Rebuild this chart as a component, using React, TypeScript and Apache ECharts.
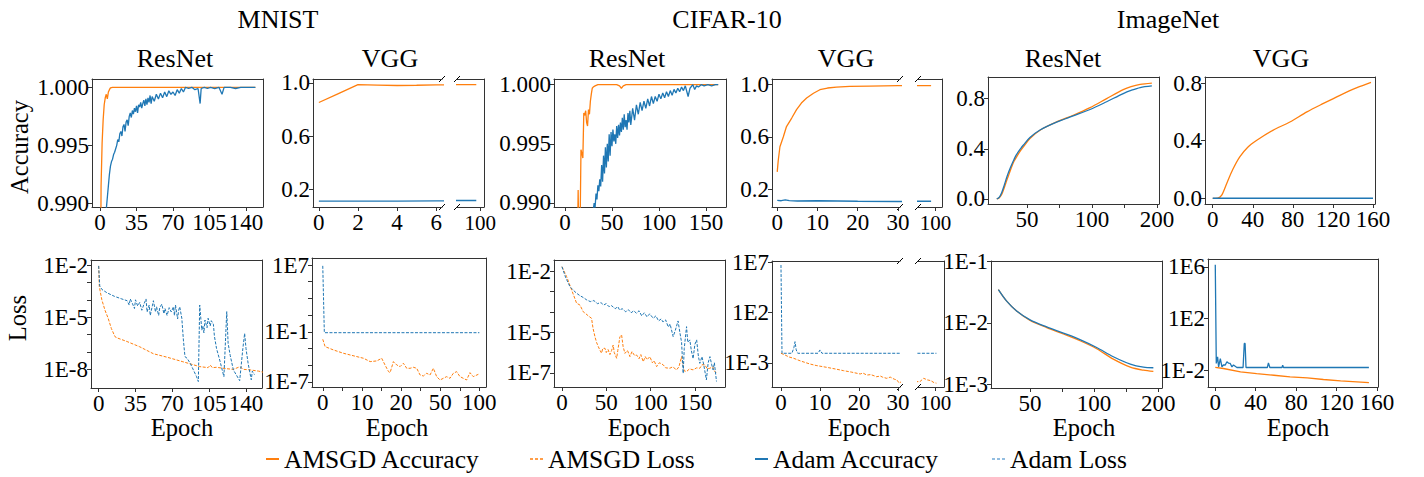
import React, { useEffect, useRef } from "react";
import * as echarts from "echarts";

const FONT = "Liberation Serif";
const ORANGE = "#ff7f0e";
const BLUE = "#1f77b4";
const AXIS = "#333";

// ---------------- Accuracy data (epoch, accuracy) ----------------
const mnistResnetAccAmsgd = [[0,0.975],[1,0.9915],[2,0.9952],[3,0.9972],[4,0.9985],[5,0.9991],[6,0.9994],[7,0.999],[8,0.9996],[9,0.9998],[10,0.99995],[12,1.0],[20,1.0],[40,1.0],[60,1.0],[80,1.0],[100,1.0],[120,1.0],[140,1.0],[149,1.0]];
const mnistResnetAccAdam = [[6,0.9895],[7,0.9905],[8,0.9915],[9,0.9925],[10,0.9932],[11,0.9936],[12,0.9938],[13,0.9942],[14,0.9944],[15,0.9947],[16,0.995],[17,0.9955],[18,0.9953],[19,0.996],[20,0.9962],[21,0.9958],[22,0.9966],[23,0.9968],[24,0.9962],[25,0.997],[26,0.9972],[27,0.9967],[28,0.9975],[29,0.9978],[30,0.9974],[31,0.998],[32,0.9977],[33,0.9982],[34,0.9979],[35,0.9984],[36,0.9978],[37,0.9985],[38,0.9983],[39,0.9987],[40,0.9982],[41,0.9986],[42,0.9989],[43,0.9984],[44,0.999],[45,0.9985],[46,0.9991],[47,0.9987],[48,0.9993],[49,0.9986],[50,0.9992],[52,0.9988],[54,0.9994],[56,0.999],[58,0.9995],[60,0.9991],[62,0.9996],[64,0.9992],[66,0.9997],[68,0.9994],[70,0.9996],[72,0.9993],[74,0.9998],[76,0.9995],[78,0.9999],[80,0.9996],[82,1.0],[85,0.9999],[88,1.0],[91,0.9998],[94,0.9999],[96,0.9986],[97,0.9999],[100,1.0],[103,0.9999],[106,1.0],[110,0.9999],[114,1.0],[117,0.9994],[119,1.0],[125,1.0],[130,0.9999],[135,1.0],[140,1.0],[149,1.0]];
const mnistVggAccAmsgd = [[0,0.853],[1,0.92],[2,0.987],[3,0.984],[4,0.981],[5,0.983],[6,0.986],[7,0.986],[10,0.987],[20,0.987],[40,0.988],[60,0.988],[80,0.988],[95,0.987],[99,0.987]];
const mnistVggAccAdam = [[0,0.11],[2,0.11],[4,0.11],[6,0.112],[10,0.112],[50,0.114],[80,0.115],[99,0.115]];
const cifarResnetAccAmsgd = [[0,0.96],[10,0.975],[13,0.985],[14,0.9911],[15,0.985],[16,0.9875],[17,0.9945],[18,0.9942],[19,0.9938],[20,0.9976],[21,0.9974],[22,0.9978],[23,0.9968],[24,0.9965],[25,0.9979],[26,0.9975],[27,0.9986],[28,0.9992],[29,0.9997],[30,0.9998],[32,0.9999],[35,1.0],[55,1.0],[58,0.9999],[60,0.9997],[62,0.9999],[65,1.0],[100,1.0],[130,1.0],[163,1.0]];
const cifarResnetAccAdam = [[28,0.988],[31,0.99],[32,0.9896],[33,0.9908],[34,0.9903],[35,0.9915],[36,0.991],[37,0.992],[38,0.9914],[39,0.9932],[40,0.9918],[41,0.994],[42,0.9925],[43,0.9947],[44,0.993],[45,0.995],[46,0.9935],[47,0.9958],[48,0.994],[49,0.996],[50,0.9948],[51,0.9962],[52,0.9952],[53,0.9958],[54,0.995],[55,0.9965],[56,0.9955],[57,0.9966],[58,0.9957],[59,0.9968],[60,0.996],[61,0.9972],[62,0.9962],[63,0.9975],[64,0.9964],[65,0.997],[66,0.9962],[67,0.9976],[68,0.9968],[69,0.9978],[70,0.9966],[72,0.998],[74,0.997],[76,0.9983],[78,0.9975],[80,0.9985],[82,0.9978],[84,0.9986],[86,0.998],[88,0.9988],[90,0.9982],[92,0.999],[94,0.9984],[96,0.999],[98,0.9986],[100,0.9992],[102,0.9988],[104,0.9993],[106,0.9989],[108,0.9994],[110,0.999],[112,0.9995],[114,0.9991],[116,0.9996],[118,0.9993],[120,0.9997],[122,0.9994],[124,0.9998],[126,0.9995],[128,0.9999],[131,0.999],[133,0.9997],[136,1.0],[138,0.9996],[140,0.9999],[142,0.9998],[145,1.0],[148,0.9999],[152,1.0],[156,0.9999],[160,1.0],[163,1.0]];
const cifarVggAccAmsgd = [[0,0.333],[0.25,0.42],[0.67,0.525],[1.5,0.6],[2.3,0.68],[3.6,0.745],[4.8,0.81],[6,0.86],[7.3,0.898],[9,0.935],[10.6,0.962],[12.5,0.975],[14.7,0.982],[18,0.987],[23,0.99],[30,0.993],[50,0.994],[80,0.994],[99,0.994]];
const cifarVggAccAdam = [[0,0.115],[1,0.112],[2,0.118],[3,0.113],[5,0.11],[10,0.112],[20,0.108],[30,0.106],[60,0.108],[99,0.108]];
// ImageNet ResNet: x is the tick position (ticks labelled 50, 100, 200 at 0, 2, 4)
const imagenetResnetAccAmsgd = [[-0.93,0],[-0.85,0.01],[-0.78,0.035],[-0.7,0.09],[-0.62,0.151],[-0.55,0.2],[-0.47,0.257],[-0.4,0.3],[-0.32,0.336],[-0.2,0.385],[-0.11,0.416],[0.09,0.482],[0.4,0.548],[0.91,0.614],[1.42,0.667],[1.94,0.728],[2.45,0.8],[2.96,0.871],[3.2,0.895],[3.48,0.913],[3.84,0.924]];
const imagenetResnetAccAdam = [[-0.93,0],[-0.85,0.015],[-0.78,0.05],[-0.7,0.11],[-0.62,0.175],[-0.55,0.225],[-0.47,0.275],[-0.4,0.315],[-0.32,0.355],[-0.2,0.4],[-0.11,0.43],[0.09,0.49],[0.4,0.55],[0.91,0.612],[1.42,0.662],[1.94,0.713],[2.45,0.775],[2.96,0.84],[3.2,0.865],[3.48,0.888],[3.84,0.901]];
const imagenetVggAccAmsgd = [[0,0],[5,0.002],[9,0.023],[14,0.104],[20,0.2],[27,0.288],[35,0.355],[44,0.403],[60,0.472],[77,0.53],[94,0.6],[110,0.657],[127,0.715],[144,0.768],[158,0.805]];
const imagenetVggAccAdam = [[0,0.001],[40,0.001],[80,0.001],[120,0.001],[160,0.001]];

// ---------------- Loss data (epoch, log10 of loss) ----------------
const mnistResnetLossAmsgd = [[0,-2.05],[0.6,-3.25],[3,-4.0],[6,-4.6],[9,-5.06],[12,-5.64],[15.5,-6.12],[18,-6.2],[27,-6.4],[39,-6.7],[52,-7.1],[65,-7.3],[80,-7.56],[96,-7.84],[104,-7.9],[106,-7.75],[108,-7.9],[112,-7.88],[120,-7.95],[128,-8.0],[134,-7.85],[138,-8.0],[144,-8.03],[152,-8.1],[163,-8.26]];
const mnistResnetLossAdam = [[0,-2.05],[1,-3.2],[3,-3.4],[8,-3.6],[15,-3.8],[22,-3.95],[27,-4.05],[29,-4.3],[30,-3.95],[32,-4.2],[34,-4.5],[35,-4.0],[37,-4.35],[39,-4.15],[41,-4.6],[43,-4.25],[45,-3.95],[46,-4.7],[48,-4.3],[49,-4.9],[51,-4.35],[52,-4.05],[54,-4.7],[55,-4.4],[57,-4.9],[58,-4.45],[60,-4.25],[62,-4.8],[63,-4.5],[65,-4.9],[67,-4.45],[69,-4.7],[71,-4.4],[72,-4.9],[73,-4.3],[75,-5.1],[76,-4.6],[77,-4.4],[79,-5.06],[80.5,-6.31],[82,-7.27],[84,-7.36],[87,-7.65],[90,-8.03],[93,-8.42],[94.7,-8.7],[96,-4.3],[98,-5.74],[99,-5.5],[100,-5.9],[101,-5.16],[103,-5.6],[104,-5.06],[106,-5.5],[107,-5.2],[109,-5.4],[110,-6.1],[112,-6.8],[115,-7.46],[119,-8.42],[121.7,-4.68],[123,-6.5],[125,-7.2],[128,-8.03],[134,-8.65],[137,-6.8],[138.7,-5.93],[140,-6.8],[142,-7.65],[145,-8.6],[146,-8.1],[148,-8.3]];
// MNIST VGG loss: x is the tick position (ticks labelled 0, 10, 20, 50, 100 at 0, 2, 4, 6, 8)
const mnistVggLossAmsgd = [[0,-1.89],[0.12,-2.77],[0.54,-3.16],[1.05,-3.56],[1.39,-3.76],[2.08,-4.16],[2.42,-4.56],[2.76,-4.48],[3.01,-4.16],[3.18,-4.96],[3.36,-5.76],[3.44,-5.88],[3.61,-4.56],[3.78,-4.96],[3.95,-5.16],[4.12,-4.76],[4.29,-5.36],[4.46,-5.36],[4.63,-5.24],[4.8,-5.36],[4.97,-6.16],[5.14,-6.28],[5.31,-5.96],[5.48,-6.16],[5.65,-5.36],[5.82,-6.36],[5.99,-6.76],[6.16,-6.56],[6.33,-6.36],[6.5,-6.56],[6.67,-5.96],[6.84,-5.76],[7.01,-6.36],[7.18,-6.56],[7.35,-6.76],[7.52,-5.88],[7.69,-6.36],[7.95,-6.08]];
const mnistVggLossAdam = [[0,6.9],[0.08,-1.1],[1,-1.1],[2,-1.1],[4,-1.1],[6,-1.1],[8,-1.1]];
const cifarResnetLossAmsgd = [[0,-1.79],[5.3,-2.28],[10.9,-2.93],[16.5,-3.58],[20.3,-3.67],[24,-4.0],[27,-4.1],[29.7,-4.2],[33.4,-4.32],[35,-4.8],[37.2,-5.22],[39,-5.5],[41,-5.71],[43,-5.9],[44.7,-6.03],[46,-5.8],[48.5,-5.79],[50,-6.0],[52,-5.85],[54.1,-6.1],[56,-5.9],[57.8,-5.63],[59,-6.0],[61.7,-6.28],[63,-5.9],[65.4,-5.22],[67.3,-5.14],[69,-5.7],[71,-6.04],[74,-5.9],[76.7,-6.2],[79,-5.95],[82,-6.15],[84.2,-6.12],[87,-6.3],[89,-6.1],[91.7,-6.45],[94,-6.2],[96,-6.35],[99.2,-6.2],[102,-6.5],[104,-6.4],[106.8,-6.69],[110,-6.5],[114.2,-6.6],[117,-6.75],[121.8,-6.77],[125,-6.7],[129.3,-6.85],[132,-6.7],[135,-6.2],[136,-6.5],[138,-6.9],[140.6,-6.93],[144,-6.8],[148,-6.85],[152,-6.75],[155.6,-6.77],[158,-6.6],[161.2,-6.6],[164,-6.8],[166.9,-6.77],[170,-6.7],[172,-6.9],[174.4,-7.02]];
const cifarResnetLossAdam = [[0,-1.79],[4,-2.3],[9,-2.77],[13,-2.95],[16.5,-3.09],[20,-3.2],[24,-3.3],[28,-3.42],[32,-3.5],[36,-3.45],[40,-3.6],[44,-3.55],[47,-3.67],[50,-3.6],[53,-3.75],[56,-3.7],[60,-3.85],[63,-3.75],[65,-3.91],[68,-3.85],[72,-4.0],[75,-3.9],[78,-4.05],[81,-3.95],[84,-4.07],[87,-3.95],[90,-4.2],[93,-4.05],[96,-4.25],[99,-4.1],[103,-4.32],[106,-4.2],[109,-4.45],[112,-4.35],[114,-4.5],[117,-4.4],[120,-4.75],[122,-4.6],[125.5,-5.22],[128,-4.9],[131,-4.45],[133,-5.0],[135,-5.5],[136.8,-7.02],[138,-5.8],[140.6,-4.73],[142,-5.5],[144.3,-5.38],[146,-5.9],[148,-6.3],[150,-5.6],[152,-5.38],[154,-6.2],[155.6,-6.53],[158,-6.2],[160,-6.6],[163,-7.34],[165,-6.5],[167,-6.2],[169,-6.6],[170.6,-6.85],[172,-6.5],[174.4,-7.42]];
const cifarVggLossAmsgd = [[0,-2.04],[1,-2.2],[2,-2.4],[3.2,-2.53],[5,-2.8],[7.4,-3.1],[9,-3.25],[11.7,-3.43],[14,-3.6],[16,-3.76],[18,-3.9],[20.3,-4.09],[21,-4.0],[22,-4.2],[23,-4.15],[24.5,-4.36],[25.5,-4.3],[26,-4.4],[27.1,-4.52],[28,-4.4],[29,-4.6],[29.7,-4.68],[30.3,-5.0],[31,-4.8],[50,-4.8],[80,-4.85],[96.7,-4.85],[97.5,-4.52],[98.3,-4.68],[99,-4.75],[99.7,-4.95],[100.2,-5.0]];
const cifarVggLossAdam = [[0,6.7],[0.26,-2.04],[2.8,-2.04],[3.3,-1.5],[3.6,-0.89],[3.9,-1.7],[4.3,-2.04],[9.5,-2.04],[10,-1.71],[10.5,-2.04],[30,-2.04],[60,-2.04],[100.2,-2.04]];
const imagenetResnetLossAmsgd = [[-0.99,-1.457],[-0.73,-1.645],[-0.42,-1.806],[0,-1.957],[0.52,-2.075],[1.04,-2.18],[1.56,-2.29],[2.08,-2.42],[2.6,-2.59],[3.13,-2.72],[3.54,-2.77],[3.85,-2.79]];
const imagenetResnetLossAdam = [[-0.99,-1.457],[-0.73,-1.645],[-0.42,-1.806],[0,-1.95],[0.52,-2.065],[1.04,-2.165],[1.56,-2.27],[2.08,-2.4],[2.6,-2.55],[3.13,-2.67],[3.54,-2.72],[3.85,-2.73]];
const imagenetVggLossAmsgd = [[0,-1.79],[8,-1.87],[25,-2.13],[41,-2.26],[58,-2.39],[74,-2.52],[91,-2.6],[107,-2.72],[124,-2.83],[152,-2.96]];
const imagenetVggLossAdam = [[0,6.16],[1,-1.48],[2.3,-0.97],[3.3,-1.74],[5,-1.1],[6.6,-1.74],[8,-1.6],[9.9,-1.6],[11.5,-1.35],[13,-1.45],[14.8,-1.48],[16.5,-1.74],[18,-1.6],[21.4,-1.79],[27.5,-1.79],[28.7,0.07],[29.5,0.07],[30.4,-1.79],[51.5,-1.79],[52.6,-1.43],[54,-1.79],[66,-1.79],[66.7,-1.62],[67.5,-1.79],[152,-1.79]];

// ---------------- Tick values and labels ----------------
const mnistResnetTicks = [0, 35, 70, 105, 140];
const cifarResnetTicks = [0, 50, 100, 150];
const mnistVggAccTicks = [0, 2, 4, 6];
const cifarVggTicks = [0, 10, 20, 30];
const brokenTailTicks = [100];
const imagenetVggTicks = [0, 40, 80, 120, 160];
const imagenetResnetTickPos = [0, 1, 2, 3, 4];
const imagenetResnetLabelPos = [0, 2, 4];
const imagenetResnetLabelText = ["50", "100", "200"];
const mnistVggLossTickPos = [0, 1, 2, 3, 4, 5, 6, 7, 8];
const mnistVggLossLabelPos = [0, 2, 4, 6, 8];
const mnistVggLossLabelText = ["0", "10", "20", "50", "100"];
const resnetAccTicks = [0.99, 0.995, 1.0];
const vggAccTicks = [0.2, 0.6, 1.0];
const imagenetAccTicks = [0.0, 0.4, 0.8];
const mnistResnetLossLabels = [-8, -5, -2];
const mnistResnetLossTicks = [-8, -7, -6, -5, -4, -3, -2];
const mnistVggLossLabels = [-7, -1, 7];
const mnistVggLossTicks = [-7, -5, -3, -1, 1, 3, 5, 7];
const cifarResnetLossLabels = [-7, -5, -2];
const cifarResnetLossTicks = [-7, -6, -5, -4, -3, -2];
const cifarVggLossLabels = [-3, 2, 7];
const imagenetResnetLossLabels = [-3, -2, -1];
const imagenetVggLossLabels = [-2, 2, 6];

const fmtInt = (v: number) => String(Math.round(v));
const fmt3 = (v: number) => v.toFixed(3);
const fmt1 = (v: number) => v.toFixed(1);
const fmtE = (v: number) => "1E" + Math.round(v);
const mapFmt = (pos: number[], text: string[]) => (v: number) => {
  const i = pos.findIndex((p) => Math.abs(p - v) < 1e-6);
  return i >= 0 ? text[i] : "";
};

type S = { name: string; data: number[][]; color: string; dashed?: boolean; width?: number; clip?: boolean; smooth?: number };
type Panel = {
  box: [number, number, number, number];
  x: [number, number];
  y: [number, number];
  xTicks: number[];
  xLabels: number[];
  xFmt: (v: number) => string;
  yTicks: number[];
  yLabels: number[];
  yFmt: (v: number) => string;
  leftLine: boolean;
  rightLine: boolean;
  yShow: boolean;
  tail?: boolean;
  series: S[];
};

const accA = (d: number[][]): S => ({ name: "AMSGD Accuracy", data: d, color: ORANGE, width: 1.3 });
const accB = (d: number[][]): S => ({ name: "Adam Accuracy", data: d, color: BLUE, width: 1.3 });
const lossA = (d: number[][], dashed = true, clip = true): S => ({ name: "AMSGD Loss", data: d, color: ORANGE, dashed, width: dashed ? 1 : 1.3, clip });
const lossB = (d: number[][], dashed = true): S => ({ name: "Adam Loss", data: d, color: BLUE, dashed, width: dashed ? 1 : 1.3 });

const panels: Panel[] = [
  // top row
  { box: [92, 263, 79, 207], x: [-7.7, 156.3], y: [0.98968, 1.00072], xTicks: mnistResnetTicks, xLabels: mnistResnetTicks, xFmt: fmtInt, yTicks: resnetAccTicks, yLabels: resnetAccTicks, yFmt: fmt3, leftLine: true, rightLine: true, yShow: true, series: [accA(mnistResnetAccAmsgd), accB(mnistResnetAccAdam)] },
  { box: [313, 442, 79, 207], x: [-0.3, 6.3], y: [0.066, 1.03], xTicks: mnistVggAccTicks, xLabels: mnistVggAccTicks, xFmt: fmtInt, yTicks: vggAccTicks, yLabels: vggAccTicks, yFmt: fmt1, leftLine: true, rightLine: false, yShow: true, series: [accA(mnistVggAccAmsgd), accB(mnistVggAccAdam)] },
  { box: [457, 484, 79, 207], x: [94, 101], y: [0.066, 1.03], xTicks: brokenTailTicks, xLabels: brokenTailTicks, xFmt: fmtInt, yTicks: [], yLabels: [], yFmt: fmt1, leftLine: false, rightLine: true, yShow: false, tail: true, series: [accA(mnistVggAccAmsgd), accB(mnistVggAccAdam)] },
  { box: [554, 726, 79, 207], x: [-11.7, 171.3], y: [0.98966, 1.00048], xTicks: cifarResnetTicks, xLabels: cifarResnetTicks, xFmt: fmtInt, yTicks: resnetAccTicks, yLabels: resnetAccTicks, yFmt: fmt3, leftLine: true, rightLine: true, yShow: true, series: [accA(cifarResnetAccAmsgd), accB(cifarResnetAccAdam)] },
  { box: [772, 900, 79, 207], x: [-1.3, 30.5], y: [0.064, 1.044], xTicks: cifarVggTicks, xLabels: cifarVggTicks, xFmt: fmtInt, yTicks: vggAccTicks, yLabels: vggAccTicks, yFmt: fmt1, leftLine: true, rightLine: false, yShow: true, series: [accA(cifarVggAccAmsgd), accB(cifarVggAccAdam)] },
  { box: [918, 942, 79, 207], x: [96, 101.5], y: [0.064, 1.044], xTicks: brokenTailTicks, xLabels: brokenTailTicks, xFmt: fmtInt, yTicks: [], yLabels: [], yFmt: fmt1, leftLine: false, rightLine: true, yShow: false, tail: true, series: [accA(cifarVggAccAmsgd), accB(cifarVggAccAdam)] },
  { box: [988, 1159, 77, 204], x: [-1.2, 4.06], y: [-0.04, 0.972], xTicks: imagenetResnetTickPos, xLabels: imagenetResnetLabelPos, xFmt: mapFmt(imagenetResnetLabelPos, imagenetResnetLabelText), yTicks: imagenetAccTicks, yLabels: imagenetAccTicks, yFmt: fmt1, leftLine: true, rightLine: true, yShow: true, series: [{ ...accA(imagenetResnetAccAmsgd), smooth: 0.3 }, { ...accB(imagenetResnetAccAdam), smooth: 0.3 }] },
  { box: [1205, 1375, 77, 204], x: [-7.7, 162], y: [-0.039, 0.842], xTicks: imagenetVggTicks, xLabels: imagenetVggTicks, xFmt: fmtInt, yTicks: imagenetAccTicks, yLabels: imagenetAccTicks, yFmt: fmt1, leftLine: true, rightLine: true, yShow: true, series: [{ ...accA(imagenetVggAccAmsgd), smooth: 0.3 }, accB(imagenetVggAccAdam)] },
  // bottom row
  { box: [91, 262, 260, 388], x: [-7.3, 155.2], y: [-9.07, -1.71], xTicks: mnistResnetTicks, xLabels: mnistResnetTicks, xFmt: fmtInt, yTicks: mnistResnetLossTicks, yLabels: mnistResnetLossLabels, yFmt: fmtE, leftLine: true, rightLine: true, yShow: true, series: [lossA(mnistResnetLossAmsgd, true, false), lossB(mnistResnetLossAdam)] },
  { box: [312, 486, 258, 387], x: [-0.55, 8.34], y: [-7.6, 7.84], xTicks: mnistVggLossTickPos, xLabels: mnistVggLossLabelPos, xFmt: mapFmt(mnistVggLossLabelPos, mnistVggLossLabelText), yTicks: mnistVggLossTicks, yLabels: mnistVggLossLabels, yFmt: fmtE, leftLine: true, rightLine: true, yShow: true, series: [lossA(mnistVggLossAmsgd), lossB(mnistVggLossAdam)] },
  { box: [554, 725, 260, 387], x: [-9, 184], y: [-7.69, -1.46], xTicks: cifarResnetTicks, xLabels: cifarResnetTicks, xFmt: fmtInt, yTicks: cifarResnetLossTicks, yLabels: cifarResnetLossLabels, yFmt: fmtE, leftLine: true, rightLine: true, yShow: true, series: [lossA(cifarResnetLossAmsgd), lossB(cifarResnetLossAdam)] },
  { box: [772, 900, 261, 387], x: [-2.3, 30.5], y: [-5.38, 7.1], xTicks: cifarVggTicks, xLabels: cifarVggTicks, xFmt: fmtInt, yTicks: cifarVggLossLabels, yLabels: cifarVggLossLabels, yFmt: fmtE, leftLine: true, rightLine: false, yShow: true, series: [lossA(cifarVggLossAmsgd), lossB(cifarVggLossAdam)] },
  { box: [918, 944, 261, 387], x: [96.3, 101.8], y: [-5.38, 7.1], xTicks: brokenTailTicks, xLabels: brokenTailTicks, xFmt: fmtInt, yTicks: [], yLabels: [], yFmt: fmtE, leftLine: false, rightLine: true, yShow: false, tail: true, series: [lossA(cifarVggLossAmsgd), lossB(cifarVggLossAdam)] },
  { box: [991, 1162, 261, 388], x: [-1.22, 4.12], y: [-3.06, -0.99], xTicks: imagenetResnetTickPos, xLabels: imagenetResnetLabelPos, xFmt: mapFmt(imagenetResnetLabelPos, imagenetResnetLabelText), yTicks: imagenetResnetLossLabels, yLabels: imagenetResnetLossLabels, yFmt: fmtE, leftLine: true, rightLine: true, yShow: true, series: [{ ...lossA(imagenetResnetLossAmsgd, false), smooth: 0.3 }, { ...lossB(imagenetResnetLossAdam, false), smooth: 0.3 }] },
  { box: [1208, 1378, 259, 387], x: [-7.2, 161], y: [-3.3, 6.6], xTicks: imagenetVggTicks, xLabels: imagenetVggTicks, xFmt: fmtInt, yTicks: imagenetVggLossLabels, yLabels: imagenetVggLossLabels, yFmt: fmtE, leftLine: true, rightLine: true, yShow: true, series: [lossA(imagenetVggLossAmsgd, false), lossB(imagenetVggLossAdam, false)] },
];

const titles = [
  { text: "MNIST", x: 278, y: 19 },
  { text: "CIFAR-10", x: 727, y: 19 },
  { text: "ImageNet", x: 1168, y: 19 },
  { text: "ResNet", x: 175, y: 58 },
  { text: "VGG", x: 390, y: 58 },
  { text: "ResNet", x: 627, y: 58 },
  { text: "VGG", x: 846, y: 58 },
  { text: "ResNet", x: 1063, y: 58 },
  { text: "VGG", x: 1281, y: 58 },
];
const epochLabelX = [182, 397, 639, 859, 1084, 1298];

function buildOption() {
  const grid: any[] = [];
  const xAxis: any[] = [];
  const yAxis: any[] = [];
  const series: any[] = [];
  const lineStyle = { color: AXIS, width: 1 };
  const labelStyle = { fontSize: 23, fontFamily: FONT, color: "#000" };
  panels.forEach((p, i) => {
    const [l, r, t, b] = p.box;
    grid.push({ left: l, top: t, width: r - l, height: b - t, containLabel: false });
    xAxis.push({
      type: "value", gridIndex: i, position: "bottom", min: p.x[0], max: p.x[1],
      axisLine: { show: true, onZero: false, lineStyle },
      axisTick: { show: true, length: 4, customValues: p.xTicks, lineStyle },
      axisLabel: { show: true, customValues: p.xLabels, formatter: p.xFmt, margin: p.tail ? 5 : 4, ...labelStyle, fontSize: p.tail ? 21 : 23 },
      splitLine: { show: false },
    });
    xAxis.push({
      type: "value", gridIndex: i, position: "top", min: p.x[0], max: p.x[1],
      axisLine: { show: true, onZero: false, lineStyle },
      axisTick: { show: false }, axisLabel: { show: false }, splitLine: { show: false },
    });
    yAxis.push({
      type: "value", gridIndex: i, position: "left", min: p.y[0], max: p.y[1],
      axisLine: { show: p.leftLine, onZero: false, lineStyle },
      axisTick: { show: p.yShow, length: 4, customValues: p.yTicks, lineStyle },
      axisLabel: { show: p.yShow, customValues: p.yLabels, formatter: p.yFmt, margin: 3, ...labelStyle },
      splitLine: { show: false },
    });
    yAxis.push({
      type: "value", gridIndex: i, position: "right", min: p.y[0], max: p.y[1],
      axisLine: { show: p.rightLine, onZero: false, lineStyle },
      axisTick: { show: false }, axisLabel: { show: false }, splitLine: { show: false },
    });
    p.series.forEach((s) => {
      series.push({
        type: "line", name: s.name, data: s.data,
        xAxisIndex: 2 * i, yAxisIndex: 2 * i,
        showSymbol: false, symbol: "none", clip: s.clip !== false,
        smooth: s.smooth || false,
        lineStyle: { color: s.color, width: s.width || 1.2, type: s.dashed ? [3, 1.5] : "solid" },
        itemStyle: { color: s.color },
        emphasis: { disabled: true },
      });
    });
  });

  const graphic: any[] = [];
  const textEl = (text: string, x: number, y: number, size: number, rot: number) => ({
    type: "text", x, y, rotation: rot,
    style: { text, fontSize: size, fontFamily: FONT, fill: "#000", align: "center", verticalAlign: "middle", textAlign: "center", textVerticalAlign: "middle" },
  });
  titles.forEach((tt) => graphic.push(textEl(tt.text, tt.x, tt.y, 26, 0)));
  graphic.push(textEl("Accuracy", 19, 147, 24.5, Math.PI / 2));
  graphic.push(textEl("Loss", 17, 318, 24.5, Math.PI / 2));
  epochLabelX.forEach((x) => graphic.push(textEl("Epoch", x, 427, 24.5, 0)));
  // break marks of the broken x-axes
  const breakPairs = [[1, 2], [4, 5], [11, 12]];
  breakPairs.forEach(([a, bIdx]) => {
    const pa = panels[a].box;
    const pb = panels[bIdx].box;
    [pa[1], pb[0]].forEach((x) => {
      [pa[2], pa[3]].forEach((y) => {
        graphic.push({ type: "line", shape: { x1: x - 3, y1: y + 3, x2: x + 3, y2: y - 3 }, style: { stroke: "#000", lineWidth: 1 } });
      });
    });
  });

  const legendText = { fontSize: 25.5, fontFamily: FONT, color: "#000" };
  const dashIcon = "path://M0,0H3V1H0ZM5,0H8V1H5ZM10,0H13V1H10Z";
  const legendItems = [
    { name: "AMSGD Accuracy", left: 266, icon: "rect", color: ORANGE, h: 2 },
    { name: "AMSGD Loss", left: 530, icon: dashIcon, color: ORANGE, h: 1.5 },
    { name: "Adam Accuracy", left: 755, icon: "rect", color: BLUE, h: 2 },
    { name: "Adam Loss", left: 992, icon: dashIcon, color: "#6fa8d6", h: 1.5 },
  ];
  const legend = legendItems.map((it) => ({
    show: true, left: it.left, top: 446, orient: "horizontal",
    itemWidth: 13, itemHeight: it.h, itemGap: 0, symbolKeepAspect: false,
    selectedMode: false, padding: 0,
    textStyle: legendText,
    data: [{ name: it.name, icon: it.icon, itemStyle: { color: it.color, borderWidth: 0 }, textStyle: legendText }],
  }));

  return {
    animation: false,
    backgroundColor: "#fff",
    textStyle: { fontFamily: FONT },
    grid, xAxis, yAxis, series, graphic, legend,
  };
}

export default function App() {
  const ref = useRef<HTMLDivElement>(null);
  useEffect(() => {
    if (!ref.current) return;
    const chart = echarts.init(ref.current, undefined, { renderer: "svg" });
    chart.setOption(buildOption() as any);
    return () => chart.dispose();
  }, []);
  return (
    <>
      <style>{".resketch-chart svg text { font-family: 'Liberation Serif', 'Times New Roman', serif !important; }"}</style>
      <div
        ref={ref}
        className="resketch-chart"
        style={{ position: "fixed", left: 0, top: 0, width: 1424, height: 477, background: "#fff" }}
      />
    </>
  );
}
